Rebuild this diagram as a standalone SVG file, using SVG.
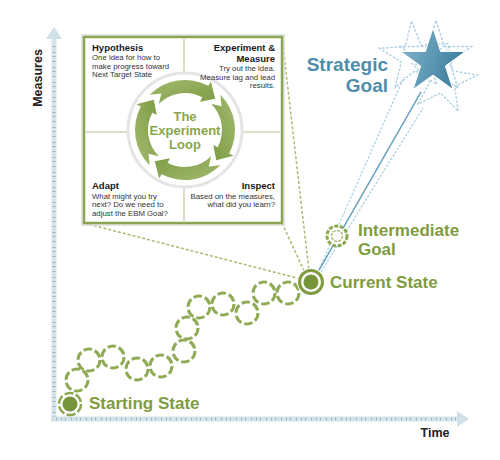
<svg xmlns="http://www.w3.org/2000/svg" xmlns:xlink="http://www.w3.org/1999/xlink" width="500" height="460" viewBox="0 0 500 460">
<style>
.sans{font-family:"Liberation Sans",Arial,sans-serif}
.head{font-family:"Liberation Sans",Arial,sans-serif;font-weight:bold;font-size:9.5px;fill:#1a1a1a}
.body{font-family:"Liberation Sans",Arial,sans-serif;font-size:7.8px;fill:#333}
.green{font-family:"Liberation Sans",Arial,sans-serif;font-weight:bold;font-size:17px;fill:#7f9c40}
.blue{font-family:"Liberation Sans",Arial,sans-serif;font-weight:bold;font-size:19px;fill:#4f8dab}
.axislbl{font-family:"Liberation Sans",Arial,sans-serif;font-weight:bold;font-size:12.5px;fill:#222}
.ring{fill:none;stroke:#8fab55;stroke-width:3;stroke-dasharray:8.5 3}
.olive{fill:none;stroke:#a9bb72;stroke-width:1.5;stroke-dasharray:3 2}
.trail{fill:none;stroke:#a9cfe2;stroke-width:1.2;stroke-dasharray:2.5 1.5}
.dstar{fill:none;stroke:#acd0e2;stroke-width:1.3;stroke-dasharray:2.5 1.5}
</style>
<defs>
<linearGradient id="starG" x1="0" y1="0" x2="1" y2="0.3">
<stop offset="0" stop-color="#86b9d0"/>
<stop offset="1" stop-color="#3f7f9e"/>
</linearGradient>
<linearGradient id="loopG" x1="0" y1="0" x2="1" y2="1">
<stop offset="0" stop-color="#a2bb70"/>
<stop offset="1" stop-color="#7c9a42"/>
</linearGradient>
<path id="star" d="M0,-34 L7.64,-10.52 L32.34,-10.51 L12.36,4.02 L19.99,27.51 L0,13 L-19.99,27.51 L-12.36,4.02 L-32.34,-10.51 L-7.64,-10.52 Z"/>
<path id="seg" d="M-35.36,-35.36 A50 50 0 0 1 23.47,-44.15 L25.82,-48.56 L30.22,-31.29 L15.02,-28.25 L17.37,-32.67 A37 37 0 0 0 -26.16,-26.16 L-23.69,-36.48 Z"/>
</defs>
<rect width="500" height="460" fill="#fff"/>

<g id="axes">
<line x1="54" y1="421" x2="54" y2="38" stroke="#d5e4eb" stroke-width="5"/>
<line x1="54" y1="417" x2="54" y2="42" stroke="#a3b3ba" stroke-width="3" stroke-dasharray="1 3 1 5 1 4"/>
<polygon points="54,27 46,39 62,39" fill="#cfe0e8"/>
<line x1="51" y1="419" x2="458" y2="419" stroke="#d5e4eb" stroke-width="5"/>
<line x1="56" y1="419" x2="456" y2="419" stroke="#a3b3ba" stroke-width="3" stroke-dasharray="1 4 1 3 1 5"/>
<polygon points="469,419 457,411 457,427" fill="#cfe0e8"/>
<text class="axislbl" transform="translate(42,78) rotate(-90)" text-anchor="middle">Measures</text>
<text class="axislbl" x="435" y="437" text-anchor="middle">Time</text>
</g>

<g id="connectors">
<line class="olive" x1="84" y1="223" x2="301" y2="279"/>
<line class="olive" x1="282" y1="223" x2="305" y2="273"/>
<line class="olive" x1="282" y1="37" x2="309" y2="271"/>
<line class="trail" x1="318" y1="272" x2="404" y2="77"/>
<line x1="318" y1="272" x2="421" y2="92" stroke="#5b9cbb" stroke-width="1.5"/>
<line class="trail" x1="321" y1="272" x2="423" y2="108"/>
</g>

<g id="experiment-loop">
<rect x="82" y="35" width="202" height="190" fill="none" stroke="#dcdcdc" stroke-width="1.5"/>
<rect x="84" y="37" width="198" height="186" fill="#fff" stroke="#8aa453" stroke-width="2.5"/>
<line x1="184" y1="39" x2="184" y2="221" stroke="#b4c08f" stroke-width="1"/>
<line x1="86" y1="132" x2="280" y2="132" stroke="#b4c08f" stroke-width="1"/>
<circle cx="185" cy="130" r="57" fill="#fff" stroke="#e4e4e4" stroke-width="3"/>
<g fill="url(#loopG)">
<use xlink:href="#seg" transform="translate(185,130)"/>
<use xlink:href="#seg" transform="translate(185,130) rotate(90)"/>
<use xlink:href="#seg" transform="translate(185,130) rotate(180)"/>
<use xlink:href="#seg" transform="translate(185,130) rotate(270)"/>
</g>
<text class="sans" font-weight="bold" font-size="13" fill="#88a64e" text-anchor="middle"><tspan x="185" y="121">The</tspan><tspan x="185" y="135">Experiment</tspan><tspan x="185" y="149">Loop</tspan></text>
<text class="head" x="92" y="51">Hypothesis</text>
<text class="body"><tspan x="92" y="60">One idea for how to</tspan><tspan x="92" y="68.5">make progress toward</tspan><tspan x="92" y="77">Next Target State</tspan></text>
<text class="head" text-anchor="end"><tspan x="275" y="51">Experiment &amp;</tspan><tspan x="275" y="62">Measure</tspan></text>
<text class="body" text-anchor="end"><tspan x="275" y="71">Try out the idea.</tspan><tspan x="275" y="79.5">Measure lag and lead</tspan><tspan x="275" y="88">results.</tspan></text>
<text class="head" x="92" y="189">Adapt</text>
<text class="body"><tspan x="92" y="198.5">What might you try</tspan><tspan x="92" y="207">next? Do we need to</tspan><tspan x="92" y="215.5">adjust the EBM Goal?</tspan></text>
<text class="head" x="275" y="189" text-anchor="end">Inspect</text>
<text class="body" text-anchor="end"><tspan x="275" y="198.5">Based on the measures,</tspan><tspan x="275" y="207">what did you learn?</tspan></text>
</g>

<g id="progress-steps">
<circle class="ring" cx="77" cy="380" r="11"/>
<circle class="ring" cx="89" cy="360" r="11"/>
<circle class="ring" cx="113" cy="357" r="11"/>
<circle class="ring" cx="137" cy="369" r="11"/>
<circle class="ring" cx="161" cy="366" r="11"/>
<circle class="ring" cx="184" cy="351" r="11"/>
<circle class="ring" cx="187" cy="328" r="11"/>
<circle class="ring" cx="199" cy="307" r="11"/>
<circle class="ring" cx="223" cy="304" r="11"/>
<circle class="ring" cx="247" cy="313" r="11"/>
<circle class="ring" cx="264" cy="293" r="11"/>
<circle class="ring" cx="288" cy="293" r="11"/>
</g>

<g id="starting-state">
<circle cx="70" cy="404" r="11" fill="#fff" stroke="#8ba851" stroke-width="2.5" stroke-dasharray="9 2.5"/>
<circle cx="70" cy="404" r="7.5" fill="#76943a"/>
<text class="green" x="89" y="409">Starting State</text>
</g>

<g id="current-state">
<circle cx="311" cy="282" r="14" fill="#fff"/>
<circle cx="311" cy="282" r="11.5" fill="none" stroke="#7f9c40" stroke-width="3"/>
<circle cx="311" cy="282" r="7.5" fill="#76943a"/>
<text class="green" x="330" y="288">Current State</text>
</g>

<g id="intermediate-goal">
<circle cx="337" cy="236" r="10" fill="#fff" stroke="#8ba851" stroke-width="3" stroke-dasharray="4 1.5"/>
<circle cx="337" cy="236" r="5.5" fill="none" stroke="#a7bd75" stroke-width="1.5" stroke-dasharray="3 1.2"/>
<text class="green"><tspan x="358" y="236">Intermediate</tspan><tspan x="358" y="255">Goal</tspan></text>
</g>

<g id="strategic-goal">
<use xlink:href="#star" class="dstar" transform="translate(414,57) rotate(-4) scale(1.05)"/>
<use xlink:href="#star" class="dstar" transform="translate(436,58) scale(1.1)"/>
<use xlink:href="#star" class="dstar" transform="translate(443,80) rotate(10) scale(1.02)"/>
<use xlink:href="#star" fill="url(#starG)" stroke="#fff" stroke-width="1" transform="translate(433,62)"/>
<text class="blue" text-anchor="end"><tspan x="388" y="71">Strategic</tspan><tspan x="388" y="92">Goal</tspan></text>
</g>
</svg>
